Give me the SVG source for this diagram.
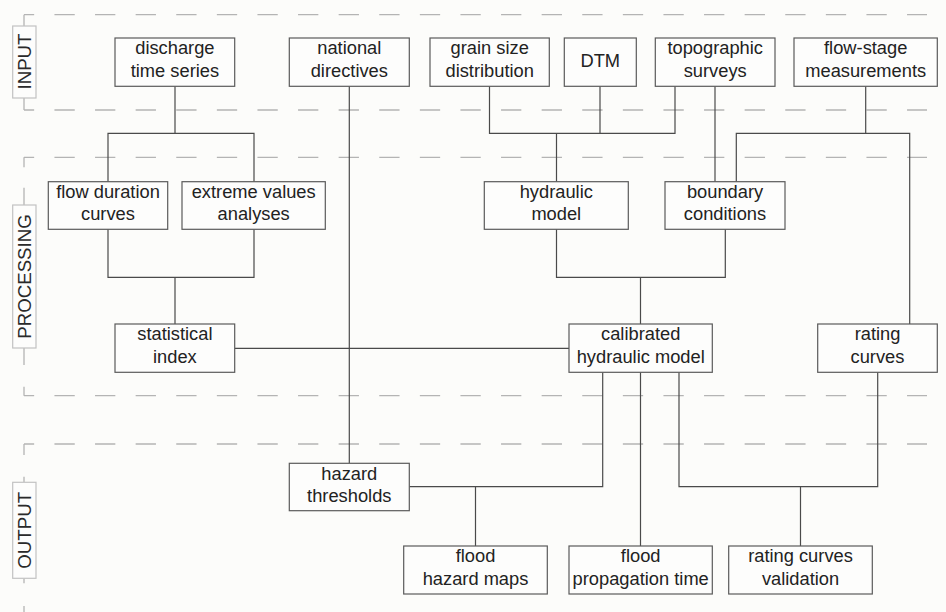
<svg xmlns="http://www.w3.org/2000/svg" width="946" height="612" viewBox="0 0 946 612">
<style>
.bg{fill:#fcfcfa}
.dash{fill:none;stroke:#b4b4b4;stroke-width:1.3;stroke-dasharray:20.3 20.3;stroke-dashoffset:10.15}
.tick{fill:none;stroke:#b4b4b4;stroke-width:1.3}
.lbl rect{fill:#fdfdfc;stroke:#c2c2c2;stroke-width:1.2}
.lbl text{font-family:"Liberation Sans",Arial,sans-serif;font-size:18.7px;fill:#2a2a2a;text-anchor:middle}
.node rect{fill:#fdfdfc;stroke:#5a5a5a;stroke-width:1.2}
.node text{font-family:"Liberation Sans",Arial,sans-serif;font-size:18.3px;fill:#222;text-anchor:middle}
#connectors path{fill:none;stroke:#4a4a4a;stroke-width:1.2}
</style>
<rect class="bg" x="0" y="0" width="946" height="612"/>

<g id="frames">
<path class="dash" d="M24 14.7 H927"/>
<path class="dash" d="M24 110 H927"/>
<path class="dash" d="M24 157.3 H927"/>
<path class="dash" d="M24 395.7 H927"/>
<path class="dash" d="M24 444 H927"/>
<path class="tick" d="M24 14.7 V26 M24 98 V110 M24 157.3 V167.3 M24 187.7 V205 M24 348 V365 M24 386.7 V395.7 M24 444 V455 M24 476.7 V482.3 M24 578.3 V583.3 M24 606 V612"/>
</g>

<g id="lbl-input" class="lbl">
<rect x="12.7" y="26" width="23.3" height="72"/>
<text transform="translate(24.3,61.5) rotate(-90)" y="6.7">INPUT</text>
</g>
<g id="lbl-processing" class="lbl">
<rect x="12.7" y="205" width="23.3" height="143"/>
<text transform="translate(24.3,276.5) rotate(-90)" y="6.7">PROCESSING</text>
</g>
<g id="lbl-output" class="lbl">
<rect x="12.7" y="482.3" width="23.3" height="96"/>
<text transform="translate(24.3,530.3) rotate(-90)" y="6.7">OUTPUT</text>
</g>

<g id="connectors">
<path d="M175 86.3 V133.3 M108 181.7 V133.3 H254 V181.7"/>
<path d="M108 229.3 V277.3 H254 V229.3 M175 277.3 V324"/>
<path d="M234.7 348.3 H569"/>
<path d="M349.3 86.3 V463.3"/>
<path d="M489.5 86.3 V133.3 H675 V86.3 M600 86.3 V133.3 M556.5 133.3 V181.7"/>
<path d="M715 86.3 V181.7"/>
<path d="M865.7 86.3 V133.3 M736.3 181.7 V133.3 H909.7 V324"/>
<path d="M556.5 229.3 V277.3 H725.3 V229.3 M640.5 277.3 V324"/>
<path d="M602.7 372.3 V486.7 H409.3 M475.5 486.7 V546"/>
<path d="M640.5 372.3 V546"/>
<path d="M679 372.3 V486.7 H877.7 V372.3 M800.5 486.7 V546"/>
</g>

<g id="n-discharge" class="node">
<rect x="115" y="38" width="119.7" height="48.3"/>
<text x="174.9" y="54.3">discharge</text><text x="174.9" y="76.7">time series</text>
</g>
<g id="n-national" class="node">
<rect x="289.3" y="38" width="120" height="48.3"/>
<text x="349.3" y="54.3">national</text><text x="349.3" y="76.7">directives</text>
</g>
<g id="n-grain" class="node">
<rect x="430" y="38" width="119.3" height="48.3"/>
<text x="489.7" y="54.3">grain size</text><text x="489.7" y="76.7">distribution</text>
</g>
<g id="n-dtm" class="node">
<rect x="564.3" y="38" width="72" height="48.3"/>
<text x="600.3" y="66.7">DTM</text>
</g>
<g id="n-topo" class="node">
<rect x="655.3" y="38" width="119.7" height="48.3"/>
<text x="715.2" y="54.3">topographic</text><text x="715.2" y="76.7">surveys</text>
</g>
<g id="n-flowstage" class="node">
<rect x="794" y="38" width="143.3" height="48.3"/>
<text x="865.7" y="54.3">flow-stage</text><text x="865.7" y="76.7">measurements</text>
</g>

<g id="n-fdc" class="node">
<rect x="48.3" y="181.7" width="119.4" height="47.6"/>
<text x="108" y="198">flow duration</text><text x="108" y="220.3">curves</text>
</g>
<g id="n-extreme" class="node">
<rect x="182" y="181.7" width="143.3" height="47.6"/>
<text x="253.7" y="198">extreme values</text><text x="253.7" y="220.3">analyses</text>
</g>
<g id="n-hydraulic" class="node">
<rect x="484.3" y="181.7" width="144" height="47.6"/>
<text x="556.3" y="198">hydraulic</text><text x="556.3" y="220.3">model</text>
</g>
<g id="n-boundary" class="node">
<rect x="665" y="181.7" width="120" height="47.6"/>
<text x="725" y="198">boundary</text><text x="725" y="220.3">conditions</text>
</g>

<g id="n-statistical" class="node">
<rect x="115" y="324" width="119.7" height="48.3"/>
<text x="174.9" y="340.3">statistical</text><text x="174.9" y="362.6">index</text>
</g>
<g id="n-calibrated" class="node">
<rect x="569" y="324" width="143.3" height="48.3"/>
<text x="640.7" y="340.3">calibrated</text><text x="640.7" y="362.6">hydraulic model</text>
</g>
<g id="n-rating" class="node">
<rect x="817.7" y="324" width="119.6" height="48.3"/>
<text x="877.5" y="340.3">rating</text><text x="877.5" y="362.6">curves</text>
</g>

<g id="n-hazardthr" class="node">
<rect x="289.3" y="463.3" width="120" height="47.4"/>
<text x="349.3" y="479.6">hazard</text><text x="349.3" y="501.9">thresholds</text>
</g>
<g id="n-hazardmaps" class="node">
<rect x="403.7" y="546" width="143.6" height="48"/>
<text x="475.5" y="562.3">flood</text><text x="475.5" y="584.6">hazard maps</text>
</g>
<g id="n-propagation" class="node">
<rect x="569" y="546" width="143.3" height="48"/>
<text x="640.7" y="562.3">flood</text><text x="640.7" y="584.6">propagation time</text>
</g>
<g id="n-validation" class="node">
<rect x="728.7" y="546" width="143.6" height="48"/>
<text x="800.5" y="562.3">rating curves</text><text x="800.5" y="584.6">validation</text>
</g>
</svg>
